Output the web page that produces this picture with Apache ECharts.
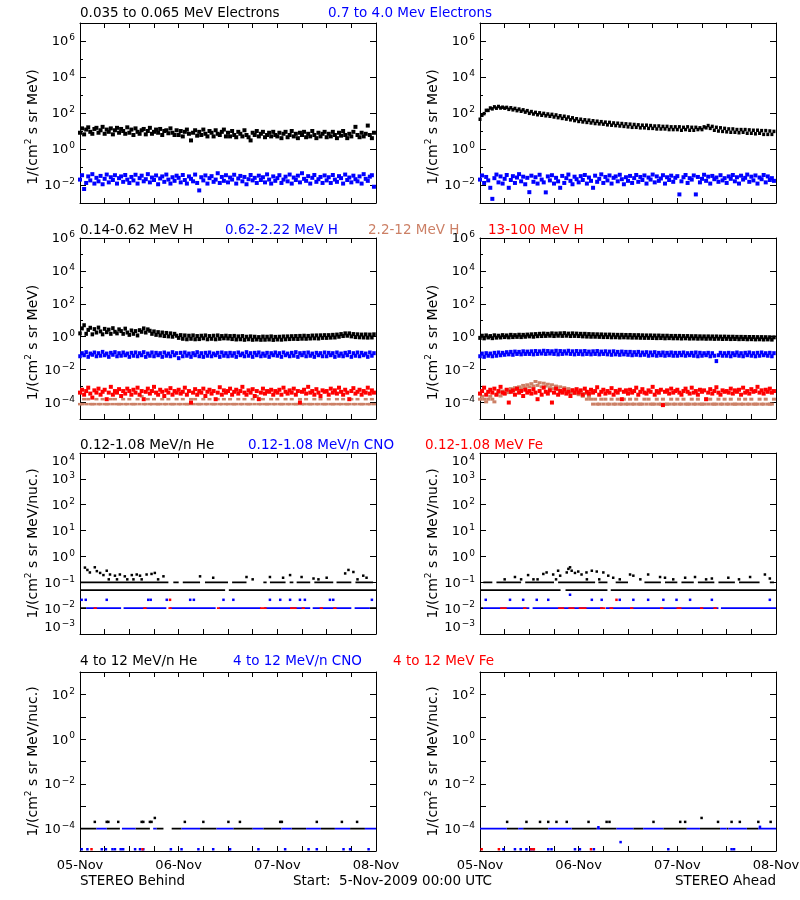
<!DOCTYPE html>
<html><head><meta charset="utf-8">
<script src="https://cdn.jsdelivr.net/npm/echarts@6/dist/echarts.min.js"></script>
<style>html,body{margin:0;padding:0;background:#fff}#c{width:800px;height:900px}</style>
</head><body><div id="c"></div>
<script>
// ---------------- DATA ----------------
// time axis: hours since 5-Nov-2009 00:00 UTC
const CADENCE_H = 0.5;               // sampling step of the dense series (hours)
const xTickLabels = ['05-Nov', '06-Nov', '07-Nov', '08-Nov'];

// Row 1: electrons  (Behind = left, Ahead = right)
const elecLoBehind = [
8,14,6.5,12,16,9,7,13,15,8,11,17,7,12,9,14,6.5,11,15,8,13,10,7,16,
8,12,6,14,9,7,11,13,6.5,10,15,7,9,12,8,13,6,10,11,7.5,14,8,6,11,
6,10,5,9,12,7,3,8,11,5.5,9,6,12,7,5,10,8,5,11,7,6,9,12,5,
8,5,10,6,4.5,9,7,5,11,6,4.5,3,8,6,10,5,7,9,4.5,6,8,5,9,6,
5,8,4,7,9,4.5,6,10,5,7,4,8,6,9,4.5,7,5,10,6,4,8,5,7,9,
4.5,7,5,9,6,4,8,5.5,10,6,4,7,5,9,17,6,4.5,8,5,7,20,6,4,8];
const elecHiBehind = [
.02,.035,.006,.013,.03,.018,.04,.012,.025,.016,.032,.011,.022,.038,.014,.027,.019,.035,.012,.024,.03,.015,.036,.02,
.013,.028,.018,.037,.012,.024,.033,.016,.021,.04,.014,.026,.019,.034,.011,.023,.03,.015,.038,.02,.012,.027,.017,.033,
.025,.014,.036,.019,.012,.03,.022,.016,.038,.013,.005,.027,.018,.034,.012,.024,.031,.015,.02,.045,.013,.028,.017,.035,
.014,.026,.02,.037,.012,.023,.032,.016,.028,.011,.021,.036,.018,.025,.013,.033,.019,.027,.014,.039,.02,.012,.03,.017,
.024,.035,.013,.02,.029,.016,.038,.012,.026,.019,.033,.014,.045,.022,.017,.031,.012,.025,.036,.015,.021,.028,.013,.034,
.018,.027,.013,.036,.02,.015,.031,.024,.012,.038,.019,.026,.014,.033,.021,.016,.03,.012,.04,.022,.017,.029,.035,.008];
const elecLoAhead = [
45,75,92,140,140,190,170,220,185,230,190,210,185,205,160,195,150,180,135,165,125,150,112,135,
96,120,88,108,80,102,75,95,70,88,66,84,60,78,55,70,50,66,46,60,42,54,38,48,
34,45,32,42,30,40,28,37,26,35,25,33,24,31,22,30,21,28,20,27,19,26,18,25,
17,24,16,23,16,22,15,21,15,21,14,20,14,19,13,19,13,18,13,18,12,17,12,17,
12,17,11,16,12,17,11,16,11,16,12,15,12,17,15,20,14,18,11,16,10,15,9.5,14,
9,13,8.5,13,8.5,12,8,12,8.5,12,7.5,11.5,7.5,11,7,11,7.5,10.5,6.5,10.5,6.5,10,6.5,9.5];
const elecHiAhead = [
.02,.034,.013,.028,.018,.007,.0017,.024,.038,.014,.03,.012,.022,.036,.007,.019,.031,.013,.026,.04,.016,.029,.011,.025,
.004,.033,.015,.027,.012,.037,.02,.014,.0039,.03,.018,.035,.012,.025,.016,.007,.032,.013,.024,.038,.017,.011,.029,.021,
.014,.031,.019,.036,.012,.026,.017,.007,.033,.015,.022,.039,.013,.028,.018,.034,.012,.025,.03,.016,.037,.021,.011,.027,
.017,.032,.013,.024,.036,.015,.028,.019,.034,.012,.026,.02,.038,.014,.03,.017,.023,.035,.012,.027,.019,.033,.015,.025,
.031,.003,.016,.027,.036,.013,.024,.02,.034,.003,.028,.014,.022,.037,.017,.029,.012,.032,.021,.026,.015,.035,.018,.024,
.013,.03,.022,.036,.016,.027,.012,.033,.02,.025,.038,.015,.029,.018,.034,.012,.026,.021,.036,.014,.03,.019,.024,.017];

// Row 2: protons
const h014Behind = [
1.6,3.2,5,1.5,2.6,3.5,1.4,2.9,1.8,3.6,2.1,1.4,3,1.9,2.7,1.5,3.3,2,1.6,2.8,2.2,1.5,3.1,1.8,
1.3,2.4,1.5,2.2,1.2,2.5,2,3.2,1.8,2.8,2.3,1.5,2.1,1.3,1.9,1.2,1.8,1.1,1.7,1.05,1.6,1.0,1.5,1.15,
0.85,1.25,0.75,1.2,0.7,1.15,0.75,1.2,0.7,1.1,0.72,1.15,0.8,1.2,0.7,1.1,0.75,1.15,0.7,1.2,0.75,1.1,0.8,1.15,
0.78,1.1,0.72,1.12,0.68,1.05,0.7,1.1,0.65,1.0,0.7,1.05,0.65,1.0,0.68,0.95,0.65,1.02,0.66,1.0,0.68,1.05,0.64,0.98,
0.68,1.0,0.66,1.04,0.7,1.05,0.72,1.08,0.74,1.1,0.73,1.12,0.76,1.15,0.75,1.12,0.78,1.18,0.8,1.2,0.78,1.22,0.85,1.25,
0.85,1.25,0.88,1.3,0.9,1.35,1.0,1.45,1.1,1.6,1.15,1.6,1.05,1.45,0.95,1.4,0.92,1.35,0.9,1.38,0.88,1.35,0.9,1.4];
const h062Behind = [
.065,.1,.075,.115,.06,.095,.08,.11,.065,.1,.07,.12,.075,.095,.06,.105,.08,.115,.065,.1,.07,.11,.075,.095,
.06,.105,.07,.11,.065,.1,.075,.115,.06,.095,.07,.11,.065,.105,.075,.1,.06,.11,.07,.095,.065,.115,.075,.1,
.05,.105,.065,.11,.07,.095,.06,.1,.075,.115,.065,.1,.06,.105,.07,.11,.065,.095,.075,.105,.06,.11,.07,.1,
.065,.105,.07,.1,.06,.11,.075,.095,.065,.115,.07,.1,.06,.105,.075,.11,.065,.095,.07,.105,.06,.1,.075,.11,
.07,.1,.06,.11,.075,.095,.065,.105,.07,.115,.06,.1,.075,.105,.065,.11,.07,.095,.06,.105,.075,.1,.065,.11,
.065,.105,.075,.1,.06,.11,.07,.095,.065,.105,.075,.115,.06,.1,.07,.11,.065,.105,.075,.095,.06,.11,.07,.1];
const h22Behind = [
8e-5,8e-5,1.6e-4,8e-5,1.6e-4,8e-5,8e-5,8e-5,1.6e-4,8e-5,8e-5,1.6e-4,8e-5,8e-5,8e-5,1.6e-4,8e-5,1.6e-4,8e-5,8e-5,8e-5,1.6e-4,8e-5,8e-5,
1.6e-4,8e-5,8e-5,8e-5,1.6e-4,8e-5,2.4e-4,8e-5,8e-5,1.6e-4,8e-5,8e-5,1.6e-4,8e-5,8e-5,8e-5,1.6e-4,8e-5,8e-5,1.6e-4,8e-5,8e-5,8e-5,1.6e-4,
8e-5,8e-5,1.6e-4,8e-5,8e-5,8e-5,1.6e-4,8e-5,1.6e-4,8e-5,8e-5,8e-5,1.6e-4,8e-5,8e-5,1.6e-4,8e-5,8e-5,8e-5,1.6e-4,8e-5,8e-5,1.6e-4,8e-5,
8e-5,1.6e-4,8e-5,8e-5,8e-5,1.6e-4,8e-5,8e-5,1.6e-4,8e-5,8e-5,8e-5,1.6e-4,8e-5,2.4e-4,8e-5,8e-5,1.6e-4,8e-5,8e-5,8e-5,1.6e-4,8e-5,8e-5,
1.6e-4,8e-5,8e-5,8e-5,1.6e-4,8e-5,8e-5,1.6e-4,8e-5,8e-5,8e-5,1.6e-4,8e-5,8e-5,1.6e-4,8e-5,8e-5,8e-5,1.6e-4,8e-5,8e-5,1.6e-4,8e-5,8e-5,
8e-5,1.6e-4,8e-5,8e-5,8e-5,1.6e-4,8e-5,8e-5,1.6e-4,8e-5,8e-5,8e-5,1.6e-4,8e-5,8e-5,1.6e-4,8e-5,8e-5,8e-5,1.6e-4,8e-5,8e-5,1.6e-4,8e-5];
const h13Behind = [
4e-4,6e-4,3e-4,5e-4,8e-4,3.5e-4,2e-4,5.5e-4,4e-4,7e-4,3e-4,4.5e-4,6e-4,1.6e-4,4e-4,9e-4,3e-4,5e-4,4e-4,6.5e-4,2.5e-4,5e-4,3.5e-4,7e-4,
5e-4,3e-4,6e-4,4e-4,8e-4,3e-4,5e-4,1.6e-4,4.5e-4,7e-4,3.5e-4,5e-4,9e-4,4e-4,3e-4,6e-4,4.5e-4,2.5e-4,5.5e-4,4e-4,7.5e-4,3e-4,5e-4,4e-4,
6e-4,3.5e-4,4.5e-4,8e-4,3e-4,5e-4,1e-4,4e-4,6.5e-4,3e-4,5e-4,4e-4,7e-4,2.5e-4,4.5e-4,6e-4,3.5e-4,5e-4,1.6e-4,4e-4,8.5e-4,3e-4,5.5e-4,4e-4,
5e-4,7e-4,3e-4,4.5e-4,6e-4,3.5e-4,5e-4,9e-4,4e-4,3e-4,5.5e-4,4e-4,6.5e-4,2.5e-4,5e-4,1.6e-4,4e-4,7e-4,3.5e-4,5e-4,4.5e-4,6e-4,3e-4,5e-4,
4e-4,6e-4,3e-4,8e-4,4.5e-4,3.5e-4,5.5e-4,4e-4,7e-4,3e-4,5e-4,1e-4,4.5e-4,6e-4,3.5e-4,9e-4,4e-4,5e-4,3e-4,6.5e-4,4e-4,2.5e-4,5.5e-4,4.5e-4,
5e-4,3e-4,7e-4,4e-4,5.5e-4,3.5e-4,8e-4,4.5e-4,3e-4,6e-4,4e-4,1.6e-4,5e-4,7.5e-4,3.5e-4,4.5e-4,6e-4,3e-4,5e-4,4e-4,8e-4,3.5e-4,5.5e-4,4e-4];
const h014Ahead = [
0.85,1.15,0.8,1.2,0.9,1.1,0.82,1.22,0.88,1.15,0.9,1.25,0.95,1.2,0.92,1.3,0.95,1.25,0.98,1.32,0.95,1.3,1.0,1.35,
1.05,1.4,1.0,1.45,1.08,1.5,1.1,1.55,1.12,1.5,1.15,1.6,1.1,1.55,1.15,1.6,1.12,1.65,1.15,1.55,1.1,1.6,1.12,1.55,
1.1,1.5,1.05,1.5,1.02,1.45,1.0,1.42,1.0,1.4,0.98,1.38,0.95,1.35,0.95,1.35,0.92,1.32,0.93,1.3,0.9,1.3,0.92,1.28,
0.9,1.28,0.88,1.25,0.88,1.25,0.86,1.22,0.85,1.2,0.85,1.2,0.84,1.18,0.82,1.18,0.83,1.15,0.8,1.15,0.82,1.12,0.8,1.12,
0.8,1.12,0.78,1.1,0.8,1.1,0.77,1.08,0.78,1.08,0.76,1.06,0.77,1.05,0.75,1.05,0.76,1.04,0.74,1.04,0.75,1.02,0.73,1.02,
0.74,1.0,0.72,1.0,0.73,0.98,0.71,0.98,0.72,0.97,0.7,0.96,0.71,0.96,0.69,0.95,0.7,0.95,0.68,0.94,0.69,0.93,0.67,0.92];
const h062Ahead = [
.065,.095,.06,.1,.07,.095,.065,.105,.07,.11,.075,.105,.08,.115,.085,.12,.08,.125,.09,.12,.085,.13,.09,.125,
.09,.13,.085,.135,.09,.13,.095,.14,.09,.135,.095,.13,.09,.14,.085,.135,.09,.13,.095,.14,.09,.13,.085,.135,
.09,.13,.085,.135,.09,.125,.085,.13,.09,.135,.085,.125,.09,.13,.085,.125,.08,.13,.085,.12,.08,.125,.085,.12,
.08,.12,.075,.115,.08,.12,.075,.11,.08,.115,.07,.11,.075,.115,.07,.105,.075,.11,.07,.105,.075,.11,.07,.105,
.07,.105,.075,.11,.07,.1,.075,.105,.07,.11,.065,.105,.07,.1,.075,.105,.065,.1,.07,.033,.075,.105,.07,.1,
.07,.105,.065,.1,.075,.11,.07,.1,.065,.105,.075,.11,.07,.1,.065,.105,.07,.11,.075,.1,.07,.105,.065,.1];
const h22Ahead = [
1.6e-4,2.4e-4,1.6e-4,1.1e-4,1.6e-4,2.4e-4,1.6e-4,1.1e-4,3e-4,4e-4,2.5e-4,5e-4,3.5e-4,6e-4,4e-4,7e-4,5e-4,8e-4,6e-4,9e-4,7e-4,1.1e-3,8e-4,1.2e-3,
9e-4,1.4e-3,1e-3,1.9e-3,1.1e-3,1.6e-3,9e-4,1.5e-3,1e-3,1.3e-3,8e-4,1.2e-3,7e-4,1e-3,6e-4,9e-4,5e-4,8e-4,4.5e-4,7e-4,4e-4,6e-4,3.5e-4,5e-4,
3e-4,4e-4,2.4e-4,3.5e-4,1.6e-4,2.4e-4,1.6e-4,8e-5,1.6e-4,8e-5,8e-5,1.6e-4,8e-5,1.6e-4,8e-5,8e-5,1.6e-4,8e-5,8e-5,1.6e-4,8e-5,8e-5,1.6e-4,8e-5,
8e-5,1.6e-4,8e-5,8e-5,1.6e-4,8e-5,8e-5,8e-5,1.6e-4,8e-5,1.6e-4,8e-5,8e-5,8e-5,1.6e-4,8e-5,8e-5,1.6e-4,8e-5,8e-5,8e-5,1.6e-4,8e-5,8e-5,
1.6e-4,8e-5,8e-5,1.6e-4,8e-5,8e-5,8e-5,1.6e-4,8e-5,8e-5,1.6e-4,8e-5,8e-5,8e-5,1.6e-4,8e-5,1.6e-4,8e-5,8e-5,8e-5,1.6e-4,8e-5,8e-5,1.6e-4,
8e-5,8e-5,1.6e-4,8e-5,8e-5,8e-5,1.6e-4,8e-5,8e-5,1.6e-4,8e-5,8e-5,1.6e-4,8e-5,8e-5,8e-5,1.6e-4,8e-5,8e-5,1.6e-4,8e-5,8e-5,8e-5,1.6e-4];
const h13Ahead = [
3.5e-4,5e-4,8e-4,3e-4,4.5e-4,6e-4,4e-4,7e-4,3e-4,5e-4,9e-4,4e-4,3.5e-4,6e-4,1e-4,4.5e-4,5.5e-4,3e-4,7e-4,4e-4,5e-4,2.5e-4,6e-4,4e-4,
5e-4,3.5e-4,6.5e-4,4e-4,1.6e-4,5e-4,3e-4,8e-4,4.5e-4,3.5e-4,5.5e-4,1e-4,4e-4,7e-4,3e-4,5e-4,4e-4,6e-4,3.5e-4,4.5e-4,2.5e-4,5.5e-4,4e-4,6.5e-4,
4e-4,5.5e-4,3e-4,7e-4,4.5e-4,3.5e-4,6e-4,4e-4,5e-4,8.5e-4,3e-4,4.5e-4,6e-4,3.5e-4,5e-4,4e-4,7.5e-4,3e-4,5e-4,4e-4,6e-4,1.6e-4,4.5e-4,5.5e-4,
3.5e-4,6e-4,4e-4,5e-4,8e-4,3e-4,4.5e-4,6.5e-4,4e-4,3.5e-4,5.5e-4,4.5e-4,9e-4,3e-4,5e-4,4e-4,6e-4,7e-5,4.5e-4,5.5e-4,3.5e-4,7e-4,4e-4,5e-4,
6e-4,4e-4,3e-4,5e-4,7e-4,4.5e-4,3.5e-4,8e-4,4e-4,5e-4,3e-4,6e-4,4.5e-4,5.5e-4,1.6e-4,4e-4,6.5e-4,3.5e-4,5e-4,8.5e-4,4e-4,3e-4,5.5e-4,4.5e-4,
5e-4,4e-4,7e-4,3.5e-4,5.5e-4,4.5e-4,6e-4,3e-4,8e-4,4e-4,5e-4,3.5e-4,6.5e-4,4.5e-4,5e-4,9e-4,4e-4,5.5e-4,3.5e-4,6e-4,4.5e-4,7e-4,4e-4,5e-4];

// Row 3: 0.12-1.08 MeV/n ions. Level runs: [startHour, endHour, value]; points: [hour, value]
const heLowBehindRuns = [[0,35.3,0.05],[36.2,72,0.05],
  [0,21.5,0.1],[22.7,24,0.1],[25,29.2,0.1],[30.4,36,0.1],[37,40.5,0.1],[44.6,45.4,0.1],[46.2,50,0.1],
  [51,51.9,0.1],[52.7,56,0.1],[57,61.6,0.1],[62.4,66,0.1],[67,71.3,0.1],[0,1.5,0.01],[70.5,72,0.01]];
const heLowBehindPts = [[1.2,0.37],[1.8,0.3],[2.4,0.24],[3.6,0.38],[4.1,0.27],[4.9,0.23],[5.7,0.19],[6.5,0.28],
  [7.3,0.2],[8.5,0.18],[9.7,0.2],[10.9,0.17],[12.6,0.19],[13.8,0.2],[14.6,0.18],[16.2,0.2],[17.4,0.21],[18.2,0.23],
  [20.3,0.17],[29.2,0.17],[32.4,0.15],[40.5,0.16],[46.2,0.16],[49.4,0.15],[51.1,0.19],[53.9,0.16],[56.8,0.14],
  [60,0.15],[64.5,0.22],[65.3,0.3],[66.5,0.25],[68.9,0.18],[69.7,0.15],
  [7,0.13],[9,0.13],[11.5,0.13],[13,0.13],[15,0.13],[19,0.13],[42,0.13],[58,0.13],[67.5,0.13]];
const cnoLowBehindRuns = [[1.5,10,0.01],[10.6,21,0.01],[21.8,33,0.01],[33.8,44,0.01],[44.8,56,0.01],[56.6,66,0.01],[66.8,70.5,0.01]];
const cnoLowBehindPts = [[0.4,0.021],[1.4,0.021],[6.5,0.021],[16.6,0.021],[17.2,0.021],[21.1,0.021],[26.8,0.021],
  [27.7,0.021],[34.9,0.021],[37.3,0.021],[46.2,0.021],[48.7,0.021],[51.1,0.021],[53.5,0.021],[54.7,0.021],
  [60.8,0.021],[61.6,0.021],[71,0.021]];
const feLowBehindRuns = [[3.3,4.1,0.01],[15.4,16.2,0.01],[21.5,22.3,0.01],[33.3,34,0.01],[43.8,45.4,0.01],
  [51.1,52.7,0.01],[53.9,54.7,0.01],[58.3,59.1,0.01],[61.6,62.4,0.01]];
const feLowBehindPts = [[21.9,0.021]];

const heLowAheadRuns = [[0,19.6,0.05],[20.8,31,0.05],[31.8,72,0.05],
  [0.8,3,0.1],[4,10,0.1],[11,18,0.1],[19,28,0.1],[28.8,31,0.1],[33,36,0.1],[40,44,0.1],[45,48,0.1],
  [49,52,0.1],[53,57,0.1],[58,62,0.1],[63,68,0.1],[70.5,71.5,0.1],[0,0.8,0.01]];
const heLowAheadPts = [[8.5,0.16],[11.7,0.19],[15.4,0.21],[16.2,0.24],[17.8,0.2],[19,0.28],[19.5,0.18],[21.1,0.24],
  [21.5,0.33],[21.9,0.38],[22.3,0.28],[23.1,0.23],[23.9,0.26],[24.7,0.2],[25.9,0.24],[27.2,0.28],[28.4,0.26],
  [30,0.24],[31.2,0.18],[32.4,0.15],[36.5,0.2],[37.3,0.18],[40.9,0.2],[43.8,0.16],[45,0.15],[49.9,0.15],
  [52.3,0.16],[56.4,0.14],[60.4,0.15],[65.7,0.16],[69.3,0.2],[70.5,0.14],
  [6,0.13],[10,0.13],[13,0.13],[14,0.13],[18.5,0.13],[26,0.13],[29,0.13],[34,0.13],[39,0.13],[47,0.13],[55,0.13],[63,0.13]];
const cnoLowAheadRuns = [[0.8,12,0.01],[12.8,30,0.01],[30.6,58,0.01],[58.6,72,0.01]];
const cnoLowAheadPts = [[1.4,0.021],[7.3,0.021],[10.5,0.021],[13.8,0.021],[16.6,0.021],[21.9,0.033],[27.2,0.021],
  [29.6,0.021],[34,0.021],[37.3,0.021],[40.9,0.021],[44.6,0.021],[47.8,0.021],[51.1,0.021],[56.4,0.021],[70.5,0.021]];
const feLowAheadRuns = [[4.9,6.5,0.01],[10.5,11.3,0.01],[19,20.5,0.01],[21.5,23,0.01],[24,25.9,0.01],[29.2,30.5,0.01],
  [31.5,32.4,0.01],[36.5,37.3,0.01],[43.8,44.6,0.01],[47.8,49,0.01],[53.5,54.3,0.01],[56.8,57.6,0.01]];
const feLowAheadPts = [[33.2,0.021]];

// Row 4: 4-12 MeV/n ions
const heHiBehindRuns = [[0,4,1e-4],[6.5,9.7,1e-4],[13.5,17,1e-4],[18.6,20.3,1e-4],[22.3,24.7,1e-4],[29.2,33.2,1e-4],
  [37.3,42,1e-4],[44.6,49,1e-4],[51.5,55,1e-4],[58.6,62,1e-4],[65.7,69.3,1e-4]];
const heHiBehindPts = [[3.6,2e-4],[6.5,2e-4],[6.9,2e-4],[9.3,2e-4],[15,2e-4],[15.4,2e-4],[17,2e-4],[17.4,2e-4],
  [18.2,3e-4],[25.5,2e-4],[30,2e-4],[36.1,2e-4],[38.9,2e-4],[48.7,2e-4],[49.1,2e-4],[57.6,2e-4],[63.7,2e-4],[67.4,2e-4]];
const cnoHiBehindRuns = [[4,6.5,1e-4],[10.2,13.5,1e-4],[17.8,18.6,1e-4],[24.7,29.2,1e-4],[33.2,37.3,1e-4],[42,44.6,1e-4],
  [49,51.5,1e-4],[55,58.6,1e-4],[62,65.7,1e-4],[69.3,72,1e-4]];
const cnoHiBehindPts = [[0.4,1.2e-5],[1.8,1.2e-5],[5.3,1.2e-5],[6.3,1.2e-5],[7.9,1.2e-5],[8.5,1.2e-5],[9.9,1.2e-5],
  [10.5,1.2e-5],[13.4,1.2e-5],[14.6,1.2e-5],[15.4,1.2e-5],[22.1,1.2e-5],[24.7,1.2e-5],[28.8,1.2e-5],[32.4,1.2e-5],
  [36.5,1.2e-5],[43.4,1.2e-5],[49.9,1.2e-5],[55.6,1.2e-5],[57.6,1.2e-5],[64.1,1.2e-5],[65.7,1.2e-5],[70.2,1.2e-5]];
const feHiBehindPts = [[2.8,1.2e-5],[15.2,1.2e-5]];

const heHiAheadRuns = [[6.5,9.3,1e-4],[10.5,16.6,1e-4],[22.3,28.4,1e-4],[29.2,33.2,1e-4],[37.3,39.7,1e-4],
  [44.6,50.3,1e-4],[53.5,58.4,1e-4],[60,60.4,1e-4],[64.9,67.7,1e-4]];
const heHiAheadPts = [[6.6,2e-4],[11.3,2e-4],[14.6,2e-4],[16.6,2e-4],[18.6,2e-4],[21.1,2e-4],[26.4,2e-4],[30.8,2e-4],
  [31.5,2e-4],[42.2,2e-4],[48.7,2e-4],[49.9,2e-4],[53.9,3e-4],[57.9,2e-4],[61.2,2e-4],[63.2,2e-4],[67.7,2e-4],[70.7,2e-4]];
const cnoHiAheadRuns = [[0,6.5,1e-4],[9.3,10.5,1e-4],[16.6,22.3,1e-4],[28.4,29.2,1e-4],[33.2,37.3,1e-4],[39.7,44.6,1e-4],
  [50.3,53.5,1e-4],[58.4,60,1e-4],[60.4,64.9,1e-4],[67.7,72,1e-4]];
const cnoHiAheadPts = [[28.8,1.15e-4],[68.1,1.2e-4],[34.2,2.5e-5],[5.7,1.2e-5],[8.5,1.2e-5],[9.9,1.2e-5],[11.3,1.2e-5],
  [12.3,1.2e-5],[13,1.2e-5],[16.6,1.2e-5],[17.4,1.2e-5],[23.1,1.2e-5],[24.3,1.2e-5],[27.7,1.2e-5],[45.8,1.2e-5],
  [61.2,1.2e-5],[61.8,1.2e-5]];
const feHiAheadPts = [[0.4,1.2e-5],[4.6,1.2e-5],[12.5,1.2e-5],[13.1,1.2e-5],[27,1.2e-5]];

// ---------------- STYLE / LAYOUT ----------------
const F = 'DejaVu Sans';
const BLACK = '#000000', BLUE = '#0000ff', RED = '#ff0000', BROWN = '#cc8066';
const lg = v => Math.log10(v);
const dense = vals => vals.map((v, i) => [i * CADENCE_H, lg(v)]);
const pts = list => list.map(p => [p[0], lg(p[1])]);
const runs = list => { const o = []; list.forEach(r => { o.push([r[0], lg(r[2])], [r[1], lg(r[2])], [r[1], '-']); }); return o; };

const rowCfg = [
  {top: 23,  h: 180, min: -3, max: 7, lab: [-2,0,2,4,6], tick: [-2,0,2,4,6], minor: [-1,1,3,5], rtick: [-2,0,2,4,6], unit: 'MeV', shift: true, edge: false},
  {top: 238, h: 181, min: -5, max: 6, lab: [-4,-2,0,2,4,6], tick: [-4,-2,0,2,4], minor: [-3,-1,1,3,5], rtick: [-4,-2,0,2,4], unit: 'MeV', shift: true, edge: false},
  {top: 453, h: 181, min: -3, max: 4, lab: [-3,-2,-1,0,1,2,3,4], tick: [-2,-1,0,1,2,3], minor: [], rtick: [-2,-1,0,1,2,3], unit: 'MeV/nuc.', shift: false, edge: true},
  {top: 672, h: 179, min: -5, max: 3, lab: [-4,-2,0,2], tick: [-4,-3,-2,-1,0,1,2], minor: [], rtick: [-4,-3,-2,-1,0,1,2], unit: 'MeV/nuc.', shift: false, edge: false}
];
const colLeft = [80, 480];

// panel series: [kind, data, color, markSize]
const panels = [
  [['d', elecLoBehind, BLACK, [4, 4]], ['d', elecHiBehind, BLUE, [4, 4]]],
  [['d', elecLoAhead, BLACK, [3, 3.5]], ['d', elecHiAhead, BLUE, [4, 4]]],
  [['d', h014Behind, BLACK, [3.5, 4]], ['d', h062Behind, BLUE, [3.5, 4]], ['d', h22Behind, BROWN, [4, 2.5]], ['d', h13Behind, RED, [4, 4]]],
  [['d', h014Ahead, BLACK, [3.5, 4]], ['d', h062Ahead, BLUE, [3.5, 4]], ['d', h22Ahead, BROWN, [4, 3]], ['d', h13Ahead, RED, [4, 4]]],
  [['r', heLowBehindRuns, BLACK], ['p', heLowBehindPts, BLACK], ['r', cnoLowBehindRuns, BLUE], ['p', cnoLowBehindPts, BLUE], ['r', feLowBehindRuns, RED], ['p', feLowBehindPts, RED]],
  [['r', heLowAheadRuns, BLACK], ['p', heLowAheadPts, BLACK], ['r', cnoLowAheadRuns, BLUE], ['p', cnoLowAheadPts, BLUE], ['r', feLowAheadRuns, RED], ['p', feLowAheadPts, RED]],
  [['r', heHiBehindRuns, BLACK], ['p', heHiBehindPts, BLACK], ['r', cnoHiBehindRuns, BLUE], ['p', cnoHiBehindPts, BLUE], ['p', feHiBehindPts, RED]],
  [['r', heHiAheadRuns, BLACK], ['p', heHiAheadPts, BLACK], ['r', cnoHiAheadRuns, BLUE], ['p', cnoHiAheadPts, BLUE], ['p', feHiAheadPts, RED]]
];

const fmtExp = v => { const e = Math.round(v); return '{b|10}{s|' + (e < 0 ? '\u2212' + (-e) : e) + '}'; };
const labRich = {
  b: {fontFamily: F, fontSize: 13, color: '#000', verticalAlign: 'bottom', lineHeight: 15},
  s: {fontFamily: F, fontSize: 9, color: '#000', verticalAlign: 'top', lineHeight: 9, padding: [0, 0, 0, 1]}
};
const nameRich = {
  n: {fontFamily: F, fontSize: 14, color: '#000', verticalAlign: 'bottom', lineHeight: 16},
  s: {fontFamily: F, fontSize: 9, color: '#000', verticalAlign: 'top', lineHeight: 9}
};
const axLine = {show: true, onZero: false, lineStyle: {color: '#000', width: 1}};

const grid = [], xAxis = [], yAxis = [], series = [];
panels.forEach((spec, gi) => {
  const row = gi >> 1, col = gi & 1, rc = rowCfg[row];
  grid.push({left: colLeft[col], top: rc.top, width: 296, height: rc.h, containLabel: false, outerBoundsMode: 'none'});
  const xb = {gridIndex: gi, type: 'value', min: 0, max: 72, interval: 6, splitLine: {show: false}, axisLine: axLine,
    axisTick: {show: true, inside: true, length: 5, lineStyle: {color: '#000'}}};
  xAxis.push(Object.assign({}, xb, {position: 'bottom',
    axisLabel: {show: row === 3, margin: 8, fontFamily: F, fontSize: 13, color: '#000',
      formatter: v => (v % 24 === 0 ? xTickLabels[v / 24] : '')}}));
  xAxis.push(Object.assign({}, xb, {position: 'top', axisLabel: {show: false}}));
  const yb = {gridIndex: gi, type: 'value', min: rc.min, max: rc.max, splitLine: {show: false}};
  const lab = {show: true, customValues: rc.lab, margin: 5, formatter: fmtExp, rich: labRich};
  if (rc.edge) { lab.verticalAlignMaxLabel = 'top'; lab.verticalAlignMinLabel = 'bottom'; }
  yAxis.push(Object.assign({}, yb, {position: 'left', axisLine: axLine,
    axisTick: {show: true, inside: true, length: 6, customValues: rc.tick, lineStyle: {color: '#000'}},
    axisLabel: lab,
    name: '{n|1/(cm}{s|2}{n| s sr ' + rc.unit + ')}', nameLocation: 'middle', nameRotate: 90, nameGap: 38,
    nameTextStyle: {fontFamily: F, fontSize: 14, color: '#000', rich: nameRich, padding: rc.shift ? [0, 28, 0, 0] : 0}}));
  yAxis.push(Object.assign({}, yb, {position: 'left', axisLine: {show: false, onZero: false},
    axisTick: {show: rc.minor.length > 0, inside: true, length: 3, customValues: rc.minor.length ? rc.minor : [rc.min], lineStyle: {color: '#000'}},
    axisLabel: {show: false}}));
  yAxis.push(Object.assign({}, yb, {position: 'right', axisLine: axLine,
    axisTick: {show: true, inside: true, length: 6, customValues: rc.rtick, lineStyle: {color: '#000'}},
    axisLabel: {show: false}}));
  spec.forEach(s => {
    const base = {xAxisIndex: gi * 2, yAxisIndex: gi * 3, silent: true, animation: false};
    if (s[0] === 'r') {
      series.push(Object.assign(base, {type: 'line', data: runs(s[1]), showSymbol: false, connectNulls: false,
        lineStyle: {color: s[2], width: 1.8}, itemStyle: {color: s[2]}}));
    } else {
      series.push(Object.assign(base, {type: 'scatter', data: s[0] === 'd' ? dense(s[1]) : pts(s[1]),
        symbol: 'rect', symbolSize: s[3] || [2.5, 2.5], itemStyle: {color: s[2], opacity: 1}}));
    }
  });
});

const T = (text, x, y, color, extra) => Object.assign({text, left: x, top: y, padding: 0,
  textStyle: {fontFamily: F, fontSize: 13.5, fontWeight: 'normal', color, lineHeight: 14}}, extra || {});
const title = [
  T('0.035 to 0.065 MeV Electrons', 80, 6, BLACK), T('0.7 to 4.0 Mev Electrons', 328, 6, BLUE),
  T('0.14-0.62 MeV H', 80, 223, BLACK), T('0.62-2.22 MeV H', 225, 223, BLUE), T('2.2-12 MeV H', 368, 223, BROWN), T('13-100 MeV H', 488, 223, RED),
  T('0.12-1.08 MeV/n He', 80, 438, BLACK), T('0.12-1.08 MeV/n CNO', 248, 438, BLUE), T('0.12-1.08 MeV Fe', 425, 438, RED),
  T('4 to 12 MeV/n He', 80, 654, BLACK), T('4 to 12 MeV/n CNO', 233, 654, BLUE), T('4 to 12 MeV Fe', 393, 654, RED),
  T('STEREO Behind', 80, 874, BLACK), T('Start:  5-Nov-2009 00:00 UTC', 293, 874, BLACK),
  Object.assign(T('STEREO Ahead', 0, 874, BLACK), {left: null, right: 24})
];

const chart = echarts.init(document.getElementById('c'), null, {renderer: 'canvas'});
chart.setOption({animation: false, backgroundColor: '#ffffff', title, grid, xAxis, yAxis, series});
</script>
</body></html>
